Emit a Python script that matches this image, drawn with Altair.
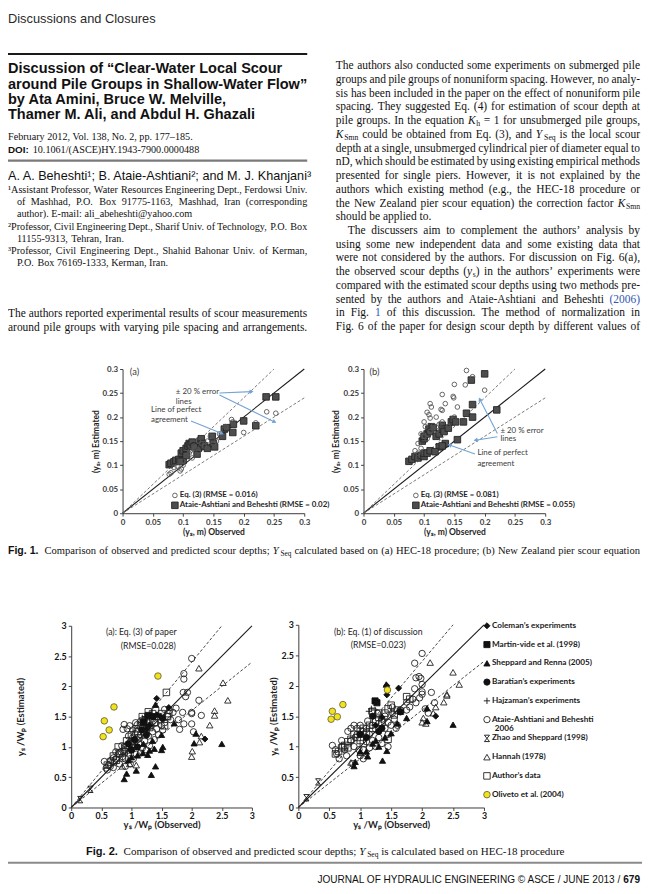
import math
import re
import altair as alt
import pandas as pd

# ------------------------------------------------------------------ data
# Fig. 1 (a) HEC-18 : (observed ys, estimated ys)  [m]
F1A_EQ3 = [(0.077, 0.081), (0.080, 0.084), (0.085, 0.095), (0.090, 0.098), (0.095, 0.088),
           (0.097, 0.092), (0.100, 0.100), (0.100, 0.108), (0.105, 0.120), (0.110, 0.125),
           (0.112, 0.130), (0.115, 0.115), (0.118, 0.140), (0.120, 0.135), (0.125, 0.128),
           (0.130, 0.145), (0.135, 0.140), (0.140, 0.150), (0.150, 0.145), (0.155, 0.150),
           (0.170, 0.180), (0.180, 0.195), (0.182, 0.190), (0.200, 0.168), (0.220, 0.188),
           (0.238, 0.211), (0.253, 0.208), (0.160, 0.165), (0.145, 0.160), (0.125, 0.150)]
F1A_AA = [(0.077, 0.101), (0.080, 0.104), (0.085, 0.107), (0.088, 0.110), (0.093, 0.112),
          (0.097, 0.125), (0.100, 0.130), (0.100, 0.110), (0.105, 0.135), (0.108, 0.140),
          (0.110, 0.145), (0.112, 0.142), (0.115, 0.148), (0.120, 0.140), (0.123, 0.123),
          (0.125, 0.135), (0.128, 0.150), (0.130, 0.155), (0.132, 0.145), (0.135, 0.140),
          (0.140, 0.135), (0.148, 0.160), (0.150, 0.145), (0.152, 0.138), (0.165, 0.160),
          (0.168, 0.175), (0.172, 0.178), (0.182, 0.168), (0.183, 0.185), (0.200, 0.192),
          (0.220, 0.182), (0.237, 0.242), (0.253, 0.242), (0.095, 0.108), (0.105, 0.120),
          (0.118, 0.138)]
# Fig. 1 (b) New Zealand equation
F1B_EQ3 = [(0.170, 0.297), (0.180, 0.284), (0.200, 0.256), (0.168, 0.267), (0.150, 0.268),
           (0.148, 0.243), (0.149, 0.240), (0.130, 0.247), (0.135, 0.228), (0.110, 0.228),
           (0.112, 0.221), (0.128, 0.216), (0.130, 0.214), (0.105, 0.210), (0.108, 0.205),
           (0.110, 0.198), (0.120, 0.200), (0.155, 0.221), (0.130, 0.190), (0.125, 0.185),
           (0.100, 0.190), (0.102, 0.180), (0.095, 0.165), (0.100, 0.160), (0.105, 0.155),
           (0.110, 0.170), (0.090, 0.145), (0.085, 0.130), (0.090, 0.125), (0.150, 0.200),
           (0.115, 0.182), (0.120, 0.172), (0.140, 0.180), (0.095, 0.135)]
F1B_AA = [(0.075, 0.108), (0.080, 0.112), (0.085, 0.118), (0.090, 0.115), (0.095, 0.120),
          (0.100, 0.118), (0.100, 0.125), (0.097, 0.150), (0.100, 0.155), (0.100, 0.160),
          (0.105, 0.165), (0.108, 0.175), (0.110, 0.170), (0.112, 0.180), (0.115, 0.178),
          (0.105, 0.125), (0.110, 0.130), (0.120, 0.160), (0.125, 0.165), (0.130, 0.183),
          (0.130, 0.175), (0.133, 0.170), (0.135, 0.145), (0.140, 0.177), (0.145, 0.190),
          (0.148, 0.195), (0.155, 0.153), (0.165, 0.190), (0.170, 0.208), (0.180, 0.200),
          (0.180, 0.226), (0.178, 0.277), (0.200, 0.290), (0.220, 0.215), (0.125, 0.138),
          (0.118, 0.128), (0.130, 0.140), (0.152, 0.190)]

F1_SERIES = ["Eq. (3)", "Ataie-Ashtiani and Beheshti"]
F1A_LABELS = ["Eq. (3) (RMSE = 0.016)", "Ataie-Ashtiani and Beheshti (RMSE = 0.02)"]
F1B_LABELS = ["Eq. (3) (RMSE = 0.081)", "Ataie-Ashtiani and Beheshti (RMSE = 0.055)"]
F1_TICKS = [0, 0.05, 0.1, 0.15, 0.2, 0.25, 0.3]
F1_LINES = {"perfect": [(0, 0), (0.3, 0.3)], "upper": [(0, 0), (0.25, 0.3)], "lower": [(0, 0), (0.3, 0.24)]}

# Fig. 2 : (ys/Wp observed, ys/Wp estimated)
F2_SERIES = ["Coleman’s experiments", "Martin-vide et al. (1998)", "Sheppard and Renna (2005)",
             "Baratian’s experiments", "Hajzaman’s experiments", "Ataie-Ashtiani and Beheshti",
             "Zhao and Sheppard (1998)", "Hannah (1978)", "Author’s data", "Oliveto et al. (2004)"]
F2A = {
    "Ataie-Ashtiani and Beheshti": [
        (2.0, 2.46), (1.87, 2.21), (1.87, 2.12), (1.86, 1.9), (1.93, 1.9), (1.9, 1.83), (2.12, 1.77),
        (1.74, 1.64), (1.63, 1.6), (1.55, 1.62), (1.85, 1.57), (2.0, 1.57), (2.0, 1.55), (2.16, 1.52),
        (1.87, 1.38), (2.0, 1.38), (2.03, 1.25), (1.8, 1.29), (1.69, 1.57), (1.78, 1.45), (1.65, 1.45),
        (1.6, 1.5), (0.88, 1.37), (0.86, 1.29), (0.93, 1.3), (1.07, 1.4), (1.1, 1.37), (1.02, 1.28),
        (0.97, 1.35), (1.15, 1.42), (0.55, 0.76), (0.58, 0.65), (0.62, 0.7), (0.6, 0.62), (0.66, 0.78),
        (0.7, 0.82), (0.72, 0.75), (0.75, 0.8), (0.78, 0.88), (0.8, 0.72), (0.82, 0.92), (0.85, 0.84),
        (0.88, 0.95), (0.9, 0.8), (0.92, 1.02), (0.95, 0.9), (0.98, 1.08), (1.0, 0.95), (1.02, 1.15),
        (1.05, 1.0), (1.08, 0.88), (1.1, 1.12), (1.12, 1.05), (1.15, 1.2), (1.18, 0.98), (1.2, 1.25),
        (1.22, 1.1), (1.25, 1.3), (1.28, 1.18), (1.3, 1.02), (1.32, 1.35), (1.35, 1.25), (1.38, 1.12),
        (1.4, 1.4), (1.42, 1.3), (1.45, 1.2), (1.48, 1.45), (1.5, 1.35), (1.52, 1.28), (1.55, 1.4),
        (0.98, 0.72), (1.03, 0.8), (0.9, 0.68), (0.65, 0.68), (0.7, 0.66), (0.74, 0.92), (0.95, 1.18),
        (1.06, 1.22), (0.84, 1.02), (1.25, 0.95), (1.15, 0.9), (1.35, 1.46)],
    "Author’s data": [
        (0.6, 0.7), (0.65, 0.75), (0.7, 0.85), (0.75, 0.78), (0.8, 0.9), (0.85, 0.82), (0.9, 1.0),
        (0.92, 1.1), (0.95, 0.95), (1.0, 1.05), (1.0, 1.2), (1.05, 1.1), (1.1, 1.25), (1.12, 1.15),
        (1.15, 1.35), (1.2, 1.4), (1.22, 1.2), (1.25, 1.45), (1.3, 1.5), (1.3, 1.32), (1.35, 1.55),
        (1.38, 1.4), (1.4, 1.6), (1.45, 1.5), (1.5, 1.55), (1.55, 1.35), (1.58, 1.9), (1.6, 1.5),
        (1.62, 1.55), (0.78, 1.0), (0.88, 0.92), (1.08, 1.3), (1.28, 1.58), (1.18, 1.5)],
    "Hannah (1978)": [
        (2.12, 2.3), (2.52, 2.06), (2.6, 1.77), (2.38, 1.6), (2.38, 1.52), (2.3, 1.36), (2.16, 1.18),
        (2.13, 1.08), (2.01, 0.93), (2.0, 0.84), (0.97, 0.72), (1.08, 0.7), (0.85, 0.68)],
    "Sheppard and Renna (2005)": [
        (0.88, 0.47), (0.92, 0.56), (1.08, 0.61), (1.33, 0.54), (1.4, 0.68), (1.3, 0.94), (1.38, 0.97),
        (1.52, 1.0), (1.5, 0.95), (1.19, 0.9), (1.4, 1.7), (1.71, 1.39), (2.07, 1.22), (2.04, 1.06),
        (2.5, 1.05), (1.27, 0.87), (1.1, 0.86), (1.0, 0.83), (0.95, 0.78), (1.2, 1.05), (1.35, 1.1),
        (1.5, 1.2)],
    "Coleman’s experiments": [(1.42, 1.8), (1.42, 1.53), (1.62, 1.65), (2.22, 1.13), (1.25, 1.3),
                              (1.3, 1.36), (1.48, 1.5)],
    "Martin-vide et al. (1998)": [(1.2, 1.4), (1.28, 1.52)],
    "Baratian’s experiments": [(1.52, 1.47), (1.36, 1.5), (1.05, 1.12), (1.17, 1.28), (1.0, 0.95),
                               (1.1, 1.0), (0.95, 1.05), (1.25, 1.2)],
    "Hajzaman’s experiments": [(1.22, 1.5), (1.18, 1.48), (1.26, 1.46), (1.2, 1.42)],
    "Zhao and Sheppard (1998)": [(0.32, 0.3), (0.15, 0.13)],
    "Oliveto et al. (2004)": [(0.53, 1.17), (0.55, 1.43), (0.63, 1.28), (0.71, 1.66), (1.44, 2.17)],
}
F2B = {
    "Ataie-Ashtiani and Beheshti": [
        (2.0, 2.53), (1.88, 2.37), (1.9, 2.13), (1.95, 2.15), (1.98, 2.12), (2.0, 2.02), (2.0, 1.9),
        (2.0, 1.86), (1.96, 1.8), (2.15, 1.89), (2.2, 1.72), (1.85, 1.78), (1.88, 1.95), (1.8, 1.65),
        (1.75, 1.73), (1.65, 1.6), (1.52, 1.55), (2.1, 1.55), (2.05, 1.62), (1.45, 1.0), (1.75, 1.6),
        (1.9, 1.72), (0.55, 1.02), (0.6, 0.95), (0.7, 1.1), (0.62, 0.88), (0.66, 0.8), (0.75, 0.95),
        (0.8, 1.25), (0.85, 1.3), (0.9, 1.35), (0.95, 1.3), (1.0, 1.35), (0.88, 0.72), (0.85, 1.1),
        (0.9, 1.0), (0.95, 1.2), (1.0, 0.85), (1.05, 1.25), (1.05, 0.95), (1.1, 1.3), (1.1, 1.08),
        (1.15, 1.2), (1.15, 0.98), (1.2, 1.35), (1.2, 1.1), (1.25, 1.28), (1.25, 1.0), (1.3, 1.38),
        (1.3, 1.15), (1.35, 1.45), (1.35, 1.05), (1.4, 1.3), (1.4, 1.5), (1.45, 1.4), (1.45, 1.2),
        (1.5, 1.35), (1.55, 1.45), (1.58, 1.3), (1.05, 0.8), (0.98, 0.95), (0.78, 0.85), (1.12, 1.42),
        (1.28, 1.55), (1.52, 1.65), (1.6, 1.35), (0.92, 1.15)],
    "Author’s data": [
        (0.6, 0.88), (0.65, 0.92), (0.7, 0.98), (0.75, 1.02), (0.8, 1.08), (0.85, 1.12), (0.9, 1.2),
        (0.95, 1.15), (1.0, 1.25), (1.05, 1.3), (1.1, 1.22), (1.15, 1.35), (1.2, 1.3), (1.25, 1.42),
        (1.3, 1.48), (1.35, 1.4), (1.4, 1.55), (1.45, 1.62), (1.5, 1.68), (1.55, 1.52), (1.6, 1.6),
        (1.65, 1.58), (1.75, 1.82), (1.8, 1.78), (1.3, 1.55), (1.05, 1.05), (0.8, 0.98), (1.45, 1.12),
        (1.2, 1.58), (0.72, 1.0), (1.0, 1.1)],
    "Hannah (1978)": [
        (2.13, 2.38), (2.5, 2.22), (2.6, 2.02), (2.35, 1.73), (2.4, 1.86), (2.4, 1.84), (2.22, 1.65),
        (2.18, 1.55), (2.0, 1.4), (2.06, 1.38), (2.02, 1.47), (0.85, 0.74), (1.0, 0.9)],
    "Sheppard and Renna (2005)": [
        (0.9, 0.68), (0.92, 0.75), (1.1, 0.92), (1.12, 0.84), (1.36, 0.77), (1.43, 0.93), (1.42, 2.02),
        (1.75, 1.47), (2.08, 1.42), (2.08, 1.63), (2.5, 1.36), (1.5, 1.22), (1.3, 1.0), (1.6, 1.38),
        (1.2, 1.05), (1.0, 0.92), (1.25, 1.1), (1.4, 1.15)],
    "Coleman’s experiments": [(1.43, 2.0), (1.43, 1.85), (1.62, 1.96), (2.22, 1.5), (1.25, 1.35),
                              (1.35, 1.48)],
    "Martin-vide et al. (1998)": [(1.24, 1.75), (1.27, 1.72)],
    "Baratian’s experiments": [(1.2, 1.5), (1.65, 1.57), (1.0, 1.2), (1.35, 1.3), (1.1, 1.15), (1.3, 1.25)],
    "Hajzaman’s experiments": [(1.18, 1.62), (1.24, 1.6), (1.14, 1.58)],
    "Zhao and Sheppard (1998)": [(0.32, 0.42), (0.13, 0.16)],
    "Oliveto et al. (2004)": [(0.53, 1.45), (0.55, 1.58), (0.63, 1.49), (0.72, 1.69), (1.44, 1.93)],
}
F2_DRAW_ORDER = ["Ataie-Ashtiani and Beheshti", "Author’s data", "Hannah (1978)",
                 "Sheppard and Renna (2005)", "Coleman’s experiments", "Martin-vide et al. (1998)",
                 "Baratian’s experiments", "Hajzaman’s experiments", "Zhao and Sheppard (1998)",
                 "Oliveto et al. (2004)"]
F2_TICKS = [0, 0.5, 1, 1.5, 2, 2.5, 3]
F2_LINES = {"perfect": [(0, 0), (3, 3)], "upper": [(0, 0), (2.5, 3)], "lower": [(0, 0), (3, 2.4)]}

# ------------------------------------------------------------------ layout / styles
OFF = 8
CW, CH = 642, 886
SERIF, SANS, CHART = "Liberation Serif", "Liberation Sans", "Lato"

PANELS = {
    "f1a": dict(xd=[0, 0.3], yd=[0, 0.3], xr=[124, 308], yr=[514, 368]),
    "f1b": dict(xd=[0, 0.3], yd=[0, 0.3], xr=[368, 552], yr=[514, 368]),
    "f2a": dict(xd=[0, 3], yd=[0, 3], xr=[72, 255], yr=[812, 628]),
    "f2b": dict(xd=[0, 3], yd=[0, 3], xr=[302, 490], yr=[812, 627]),
}

BODY = 11.6
STYLES = {
    "header": dict(font=SANS, fontSize=13, color="#2a2a2a"),
    "title": dict(font=SANS, fontSize=14.7, fontWeight="bold", color="#111"),
    "meta": dict(font=SERIF, fontSize=10.3, color="#111"),
    "metab": dict(font=SANS, fontSize=10, fontWeight="bold", color="#111"),
    "authors": dict(font=SANS, fontSize=12.8, color="#111"),
    "fn": dict(font=SERIF, fontSize=10.3, color="#111"),
    "body": dict(font=SERIF, fontSize=BODY, color="#111"),
    "bodyi": dict(font=SERIF, fontSize=BODY, fontStyle="italic", color="#111"),
    "bodysub": dict(font=SERIF, fontSize=7.8, color="#111", shift=3),
    "bodyblue": dict(font=SERIF, fontSize=BODY, color="#2f55b5"),
    "cap1": dict(font=SERIF, fontSize=10.7, color="#111"),
    "cap1i": dict(font=SERIF, fontSize=10.7, fontStyle="italic", color="#111"),
    "cap1sub": dict(font=SERIF, fontSize=7.4, color="#111", shift=3),
    "cap1b": dict(font=SANS, fontSize=10.7, fontWeight="bold", color="#111"),
    "cap": dict(font=SERIF, fontSize=11.2, color="#111"),
    "capi": dict(font=SERIF, fontSize=11.2, fontStyle="italic", color="#111"),
    "capsub": dict(font=SERIF, fontSize=7.6, color="#111", shift=3),
    "capb": dict(font=SANS, fontSize=11.2, fontWeight="bold", color="#111"),
    "foot": dict(font=SANS, fontSize=10.2, color="#111"),
    "footb": dict(font=SANS, fontSize=10.2, fontWeight="bold", color="#111"),
    "leg": dict(font=CHART, fontSize=8, fontWeight="bold", color="#262626"),
    "leg2": dict(font=CHART, fontSize=8.3, fontWeight="bold", color="#1a1a1a"),
    "note2": dict(font=CHART, fontSize=8.8, color="#1e1e1e"),
}
VARIANTS = {
    "body": {"": "body", "i": "bodyi", "sub": "bodysub", "blue": "bodyblue"},
    "fn": {"": "fn", "i": "fn", "sub": "fn", "blue": "fn"},
    "cap1": {"": "cap1", "i": "cap1i", "sub": "cap1sub", "blue": "cap1"},
    "cap": {"": "cap", "i": "capi", "sub": "capsub", "blue": "cap"},
}

L0, L1 = 8, 311
R0, R1 = 340, 648
L, R, C = "left", "right", "center"

# single text pieces: (text, x, y, align, style) in page pixels
TEXT = [
    ("Discussions and Closures", L0, 13.5, L, "header"),
    ("Discussion of “Clear-Water Local Scour", L0, 64, L, "title"),
    ("around Pile Groups in Shallow-Water Flow”", L0, 80, L, "title"),
    ("by Ata Amini, Bruce W. Melville,", L0, 95.5, L, "title"),
    ("Thamer M. Ali, and Abdul H. Ghazali", L0, 111, L, "title"),
    ("February 2012, Vol. 138, No. 2, pp. 177–185.", L0, 133, L, "meta"),
    ("DOI:", L0, 146, L, "metab"),
    ("10.1061/(ASCE)HY.1943-7900.0000488", 33, 146, L, "meta"),
    ("A. A. Beheshti¹; B. Ataie-Ashtiani²; and M. J. Khanjani³", L0, 173, L, "authors"),
    ("Fig. 1.", L0, 552, L, "cap1b"),
    ("Fig. 2.", 87, 857, L, "capb"),
    ("JOURNAL OF HYDRAULIC ENGINEERING © ASCE / JUNE 2013 /", 628, 885, R, "foot"),
    ("679", 648, 885, R, "footb"),
]

# running text lines: (markup, x0, x1, y, base style, justified)
# markup: *italic*, _{subscript}, {{blue link}}
PARAS = [
    ("¹Assistant Professor, Water Resources Engineering Dept., Ferdowsi Univ.", L0, L1, 187, "fn", True),
    ("of Mashhad, P.O. Box 91775-1163, Mashhad, Iran (corresponding", 17, L1, 199, "fn", True),
    ("author). E-mail: ali_abeheshti@yahoo.com", 17, L1, 211, "fn", False),
    ("²Professor, Civil Engineering Dept., Sharif Univ. of Technology, P.O. Box", L0, L1, 224, "fn", True),
    ("11155-9313, Tehran, Iran.", 17, L1, 236, "fn", False),
    ("³Professor, Civil Engineering Dept., Shahid Bahonar Univ. of Kerman,", L0, L1, 249, "fn", True),
    ("P.O. Box 76169-1333, Kerman, Iran.", 17, L1, 261, "fn", False),
    ("The authors reported experimental results of scour measurements", L0, L1, 312.5, "body", True),
    ("around pile groups with varying pile spacing and arrangements.", L0, L1, 326.4, "body", True),
    ("Comparison of observed and predicted scour depths; *Y*_{Seq} calculated based on (a) HEC-18 procedure; "
     "(b) New Zealand pier scour equation", 45, 648, 552, "cap1", True),
    ("Comparison of observed and predicted scour depths; *Y*_{Seq} is calculated based on HEC-18 procedure",
     125, 648, 857, "cap", False),
]
RIGHT_COL = [
    "The authors also conducted some experiments on submerged pile",
    "groups and pile groups of nonuniform spacing. However, no analy-",
    "sis has been included in the paper on the effect of nonuniform pile",
    "spacing. They suggested Eq. (4) for estimation of scour depth at",
    "pile groups. In the equation *K*_{h} = 1 for unsubmerged pile groups,",
    "*K*_{Smn} could be obtained from Eq. (3), and *Y*_{Seq} is the local scour",
    "depth at a single, unsubmerged cylindrical pier of diameter equal to",
    "nD, which should be estimated by using existing empirical methods",
    "presented for single piers. However, it is not explained by the",
    "authors which existing method (e.g., the HEC-18 procedure or",
    "the New Zealand pier scour equation) the correction factor *K*_{Smn}",
    "should be applied to.",
    "The discussers aim to complement the authors’ analysis by",
    "using some new independent data and some existing data that",
    "were not considered by the authors. For discussion on Fig. 6(a),",
    "the observed scour depths (*y*_{s}) in the authors’ experiments were",
    "compared with the estimated scour depths using two methods pre-",
    "sented by the authors and Ataie-Ashtiani and Beheshti {{(2006)}}",
    "in Fig. {{1}} of this discussion. The method of normalization in",
    "Fig. 6 of the paper for design scour depth by different values of",
]
RC_Y0, RC_DY = 61.5, 13.9
RC_INDENT = {12: 12}          # paragraph indent (line index: pixels)
RC_RAGGED = {11}              # last line of a paragraph

# horizontal rules (x1, x2, y, colour, width)
RULES = [(0, 311, 49, "#1a1a1a", 2), (0, 311, 157, "#7a7a7a", 2.2), (0, 650, 868, "#8a8a8a", 2)]

# Fig. 1 annotations (panel, text, x, y, size) in data units
F1_NOTES = [
    ("f1a", "(a)", 0.012, 0.294, 9.5), ("f1a", "± 20 % error", 0.088, 0.252, 8),
    ("f1a", "lines", 0.088, 0.232, 8), ("f1a", "Line of perfect", 0.047, 0.214, 8),
    ("f1a", "agreement", 0.047, 0.194, 8),
    ("f1b", "(b)", 0.010, 0.294, 9.5), ("f1b", "± 20 % error", 0.226, 0.172, 8),
    ("f1b", "lines", 0.226, 0.154, 8), ("f1b", "Line of perfect", 0.188, 0.125, 8),
    ("f1b", "agreement", 0.188, 0.103, 8),
]
F1_ARROWS = [
    ("f1a", 0.160, 0.250, 0.213, 0.253), ("f1a", 0.160, 0.246, 0.251, 0.190), ("f1a", 0.113, 0.192, 0.164, 0.166),
    ("f1b", 0.221, 0.166, 0.192, 0.237), ("f1b", 0.221, 0.159, 0.185, 0.152), ("f1b", 0.184, 0.123, 0.142, 0.142),
]
F2_NOTES = [
    ("(a): Eq. (3) of paper", 143, 634), ("(RMSE=0.028)", 150, 648),
    ("(b): Eq. (1) of discussion", 383, 634), ("(RMSE=0.023)", 383, 647),
]

PLUS = "M-1,0L1,0M0,-1L0,1"
ZHAO = "M-0.8,-1L0.8,-1M-0.8,1L0.8,1M-0.8,-1L0.8,1M0.8,-1L-0.8,1"
F1_STYLE = dict(shape=["circle", "square"], fill=["transparent", "#4d4d4d"],
                stroke=["#555555", "#252525"], size=[22, 44])
F2_STYLE = dict(
    shape=["diamond", "square", "triangle-up", "circle", PLUS, "circle", ZHAO, "triangle-up", "square", "circle"],
    fill=["#111", "#111", "#111", "#111", "transparent", "transparent", "transparent", "transparent",
          "transparent", "#f2e21a"],
    stroke=["#111", "#111", "#111", "#111", "#111", "#222", "#111", "#222", "#222", "#6b6640"],
    size=[38, 44, 48, 42, 64, 48, 40, 50, 34, 44])

# Times-Roman advance widths (1/1000 em) used to justify lines
_TW = {' ': 250, 'a': 444, 'b': 500, 'c': 444, 'd': 500, 'e': 444, 'f': 333, 'g': 500, 'h': 500, 'i': 278,
       'j': 278, 'k': 500, 'l': 278, 'm': 778, 'n': 500, 'o': 500, 'p': 500, 'q': 500, 'r': 333, 's': 389,
       't': 278, 'u': 500, 'v': 500, 'w': 722, 'x': 500, 'y': 500, 'z': 444, 'A': 722, 'B': 667, 'C': 667,
       'D': 722, 'E': 611, 'F': 556, 'G': 722, 'H': 722, 'I': 333, 'J': 389, 'K': 722, 'L': 611, 'M': 889,
       'N': 722, 'O': 722, 'P': 556, 'Q': 722, 'R': 667, 'S': 556, 'T': 611, 'U': 722, 'V': 722, 'W': 944,
       'X': 722, 'Y': 722, 'Z': 611, '.': 250, ',': 250, ';': 278, ':': 278, '(': 333, ')': 333, '-': 333,
       '–': 500, '’': 333, "'": 180, '/': 278, '@': 921, '_': 500, '¹': 300, '²': 300, '³': 300, '=': 564}


# ------------------------------------------------------------------ helpers
def cx(v):
    return v - OFF


def tw(text, style):
    return STYLES[style]["fontSize"] * sum(_TW.get(ch, 500) for ch in text) / 1000.0


_PIECE = re.compile(r"\*([^*]+)\*|_\{([^}]+)\}|\{\{([^}]+)\}\}|((?:[^*_{]|_(?!\{)|\{(?!\{))+)")


def layout_line(markup, x0, x1, y, base, justified):
    toks = []
    for k, word in enumerate(markup.split(" ")):
        for j, m in enumerate(_PIECE.finditer(word)):
            if m.group(1):
                t, kind = m.group(1), "i"
            elif m.group(2):
                t, kind = m.group(2), "sub"
            elif m.group(3):
                t, kind = m.group(3), "blue"
            else:
                t, kind = m.group(4), ""
            toks.append((t, VARIANTS[base][kind], k > 0 and j == 0))
    sp = tw(" ", base)
    nsp = sum(1 for _, _, b in toks if b)
    nat = sum(tw(t, s) for t, s, _ in toks) + sp * nsp
    extra = ((x1 - x0) - nat) / nsp if (justified and nsp) else 0.0
    rows, x = [], x0
    for idx, (t, s, b) in enumerate(toks):
        if b:
            x += sp + extra
        if justified and idx == len(toks) - 1:
            rows.append((t, x1, y, R, s))
        else:
            rows.append((t, x, y, L, s))
        x += tw(t, s)
    return rows


def scale(panel, ch):
    p = PANELS[panel]
    if ch == "x":
        return alt.Scale(domain=p["xd"], range=[cx(p["xr"][0]), cx(p["xr"][1])], nice=False, zero=False)
    return alt.Scale(domain=p["yd"], range=[cx(p["yr"][0]), cx(p["yr"][1])], nice=False, zero=False)


def axes(panel, ticks, lab_size, tit_size, xtitle, ytitle, title_x, title_y, col, lpad_x):
    p = PANELS[panel]
    common = dict(grid=False, values=ticks, format="~g", labelFont=CHART, labelFontWeight="bold",
                  labelFontSize=lab_size, labelColor=col, tickSize=3, tickColor="#444", domainColor="#3a3a3a",
                  titleFont=CHART, titleFontWeight="bold", titleFontSize=tit_size, titleColor="#1e1e1e",
                  labelFlush=False, labelOverlap=False)
    xa = alt.Axis(orient="bottom", offset=cx(p["yr"][0]) - CH, title=xtitle, titleY=title_y,
                  titleBaseline="middle", labelPadding=lpad_x, **common)
    ya = alt.Axis(orient="left", offset=-cx(p["xr"][0]), title=ytitle, titleX=title_x,
                  titleBaseline="middle", titleAngle=270, labelPadding=2, **common)
    return xa, ya


def style_enc(domain, st):
    return dict(
        shape=alt.Shape("series:N", scale=alt.Scale(domain=domain, range=st["shape"]), legend=None),
        fill=alt.Fill("series:N", scale=alt.Scale(domain=domain, range=st["fill"]), legend=None),
        stroke=alt.Stroke("series:N", scale=alt.Scale(domain=domain, range=st["stroke"]), legend=None),
        size=alt.Size("series:N", scale=alt.Scale(domain=domain, range=st["size"]), legend=None),
    )


def text_layers(rows):
    df = pd.DataFrame(rows, columns=["text", "x", "y", "align", "style"])
    out = []
    for (sty, align), g in df.groupby(["style", "align"], sort=False):
        st = dict(STYLES[sty])
        shift = st.pop("shift", 0)
        g = pd.DataFrame({"text": g["text"], "px": g["x"] - OFF, "py": g["y"] - OFF + shift})
        out.append(alt.Chart(g).mark_text(align=align, baseline="middle", **st).encode(
            x=alt.X("px:Q", scale=None, axis=None), y=alt.Y("py:Q", scale=None, axis=None), text="text:N"))
    return out


layers = []

# rules
rdf = pd.DataFrame([dict(x1=cx(a), x2=cx(b), y=cx(y), c=c, w=w) for a, b, y, c, w in RULES])
layers.append(alt.Chart(rdf).mark_rule().encode(
    x=alt.X("x1:Q", scale=None, axis=None), x2="x2:Q", y=alt.Y("y:Q", scale=None, axis=None),
    color=alt.Color("c:N", scale=None), strokeWidth=alt.StrokeWidth("w:Q", scale=None)))

# page text
rows = list(TEXT)
for mk, a, b, y, base, just in PARAS:
    rows += layout_line(mk, a, b, y, base, just)
for i, mk in enumerate(RIGHT_COL):
    rows += layout_line(mk, R0 + RC_INDENT.get(i, 0), R1, RC_Y0 + i * RC_DY, "body", i not in RC_RAGGED)
layers += text_layers(rows)

# ---------------- reference lines + axes for all panels
AX_SPEC = {
    "f1a": dict(ticks=F1_TICKS, lab=8, tit=8.6, xt="(yₛ, m) Observed", yt="(yₛ, m) Estimated", tx=-27, ty=19,
                col="#3a3a3a", lp=2),
    "f1b": dict(ticks=F1_TICKS, lab=8, tit=8.6, xt="(yₛ, m) Observed", yt="(yₛ, m) Estimated", tx=-28, ty=19,
                col="#3a3a3a", lp=2),
    "f2a": dict(ticks=F2_TICKS, lab=9, tit=9.6, xt="yₛ /Wₚ (Observed)", yt="yₛ /Wₚ (Estimated)", tx=-51, ty=17.5,
                col="#151515", lp=1),
    "f2b": dict(ticks=F2_TICKS, lab=9, tit=9.6, xt="yₛ /Wₚ (Observed)", yt="yₛ /Wₚ (Estimated)", tx=-25, ty=17.5,
                col="#151515", lp=1),
}
for panel, spec in AX_SPEC.items():
    lines = F1_LINES if panel.startswith("f1") else F2_LINES
    ldf = pd.DataFrame([dict(line=k, x=x, y=y) for k, pts in lines.items() for x, y in pts])
    xa, ya = axes(panel, spec["ticks"], spec["lab"], spec["tit"], spec["xt"], spec["yt"], spec["tx"], spec["ty"],
                  spec["col"], spec["lp"])
    solid = ldf[ldf.line == "perfect"]
    dashed = ldf[ldf.line != "perfect"]
    layers.append(alt.Chart(solid).mark_line(color="#1a1a1a", strokeWidth=1.1).encode(
        x=alt.X("x:Q", scale=scale(panel, "x"), axis=xa), y=alt.Y("y:Q", scale=scale(panel, "y"), axis=ya)))
    dash_col = "#6a6a6a" if panel.startswith("f1") else "#333"
    layers.append(alt.Chart(dashed).mark_line(color=dash_col, strokeWidth=0.9, strokeDash=[3, 2]).encode(
        x=alt.X("x:Q", scale=scale(panel, "x"), axis=None), y=alt.Y("y:Q", scale=scale(panel, "y"), axis=None),
        detail="line:N"))

# ---------------- Fig. 1 points
for panel, eq3, aa in (("f1a", F1A_EQ3, F1A_AA), ("f1b", F1B_EQ3, F1B_AA)):
    pdf = pd.DataFrame([dict(series=F1_SERIES[1], x=x, y=y) for x, y in aa] +
                       [dict(series=F1_SERIES[0], x=x, y=y) for x, y in eq3])
    layers.append(alt.Chart(pdf).mark_point(opacity=1, strokeWidth=0.9).encode(
        x=alt.X("x:Q", scale=scale(panel, "x"), axis=None), y=alt.Y("y:Q", scale=scale(panel, "y"), axis=None),
        **style_enc(F1_SERIES, F1_STYLE)))

# Fig. 1 annotations and arrows
for panel in ("f1a", "f1b"):
    p = PANELS[panel]
    kx = (p["xr"][1] - p["xr"][0]) / (p["xd"][1] - p["xd"][0])
    ky = (p["yr"][0] - p["yr"][1]) / (p["yd"][1] - p["yd"][0])
    for size in (9.5, 8):
        ndf = pd.DataFrame([dict(text=t, x=x, y=y) for pn, t, x, y, s in F1_NOTES if pn == panel and s == size])
        layers.append(alt.Chart(ndf).mark_text(align="left", baseline="middle", font=CHART, fontSize=size,
                                               color="#3c3c3c").encode(
            x=alt.X("x:Q", scale=scale(panel, "x"), axis=None), y=alt.Y("y:Q", scale=scale(panel, "y"), axis=None),
            text="text:N"))
    arr = []
    for pn, x1, y1, x2, y2 in F1_ARROWS:
        if pn != panel:
            continue
        dxp, dyp = (x2 - x1) * kx, -(y2 - y1) * ky
        ang = math.degrees(math.atan2(dxp, -dyp)) % 360
        arr.append(dict(x1=x1, y1=y1, x2=x2, y2=y2, ang=ang))
    adf = pd.DataFrame(arr)
    layers.append(alt.Chart(adf).mark_rule(color="#73a3d4", strokeWidth=1.1).encode(
        x=alt.X("x1:Q", scale=scale(panel, "x"), axis=None), y=alt.Y("y1:Q", scale=scale(panel, "y"), axis=None),
        x2="x2:Q", y2="y2:Q"))
    layers.append(alt.Chart(adf).mark_point(shape="triangle-up", filled=True, size=22, color="#73a3d4",
                                            opacity=1).encode(
        x=alt.X("x2:Q", scale=scale(panel, "x"), axis=None), y=alt.Y("y2:Q", scale=scale(panel, "y"), axis=None),
        angle=alt.Angle("ang:Q", scale=None)))

# Fig. 1 legends (inside the panels)
leg1 = []
for (lx, ly), labels in (((177, 496), F1A_LABELS), ((421, 496), F1B_LABELS)):
    for i, s in enumerate(F1_SERIES):
        leg1.append(dict(series=s, label=labels[i], px=cx(lx), py=cx(ly + 10 * i), tx=cx(lx + 5)))
l1df = pd.DataFrame(leg1)
layers.append(alt.Chart(l1df).mark_point(opacity=1, strokeWidth=0.9).encode(
    x=alt.X("px:Q", scale=None, axis=None), y=alt.Y("py:Q", scale=None, axis=None),
    **style_enc(F1_SERIES, F1_STYLE)))
layers.append(alt.Chart(l1df).mark_text(align="left", baseline="middle", **STYLES["leg"]).encode(
    x=alt.X("tx:Q", scale=None, axis=None), y=alt.Y("py:Q", scale=None, axis=None), text="label:N"))

# ---------------- Fig. 2 points
for panel, data in (("f2a", F2A), ("f2b", F2B)):
    pdf = pd.DataFrame([dict(series=s, x=x, y=y) for s in F2_DRAW_ORDER for x, y in data[s]])
    layers.append(alt.Chart(pdf).mark_point(opacity=1, strokeWidth=0.9).encode(
        x=alt.X("x:Q", scale=scale(panel, "x"), axis=None), y=alt.Y("y:Q", scale=scale(panel, "y"), axis=None),
        **style_enc(F2_SERIES, F2_STYLE)))

# Fig. 2 notes
layers += [alt.Chart(pd.DataFrame([dict(text=t, px=cx(x), py=cx(y)) for t, x, y in F2_NOTES])).mark_text(
    align="center", baseline="middle", **STYLES["note2"]).encode(
    x=alt.X("px:Q", scale=None, axis=None), y=alt.Y("py:Q", scale=None, axis=None), text="text:N")]

# Fig. 2 legend
l2df = pd.DataFrame([dict(series=s, px=cx(493), py=cx(628 + 19 * i), tx=cx(498)) for i, s in enumerate(F2_SERIES)])
layers.append(alt.Chart(l2df).mark_point(opacity=1, strokeWidth=0.9).encode(
    x=alt.X("px:Q", scale=None, axis=None), y=alt.Y("py:Q", scale=None, axis=None),
    **style_enc(F2_SERIES, F2_STYLE)))
layers.append(alt.Chart(l2df).mark_text(align="left", baseline="middle", **STYLES["leg2"]).encode(
    x=alt.X("tx:Q", scale=None, axis=None), y=alt.Y("py:Q", scale=None, axis=None), text="series:N"))
layers += text_layers([("2006", 501, 733, L, "leg2")])

chart = alt.layer(*layers).resolve_scale(
    x="independent", y="independent", shape="independent", fill="independent",
    stroke="independent", size="independent", color="independent"
).resolve_axis(x="independent", y="independent").properties(
    width=CW, height=CH, padding=0, background="white",
    autosize=alt.AutoSizeParams(type="none"),
).configure_view(stroke=None)

chart.save("out.html", embed_options={"renderer": "svg", "actions": False})
